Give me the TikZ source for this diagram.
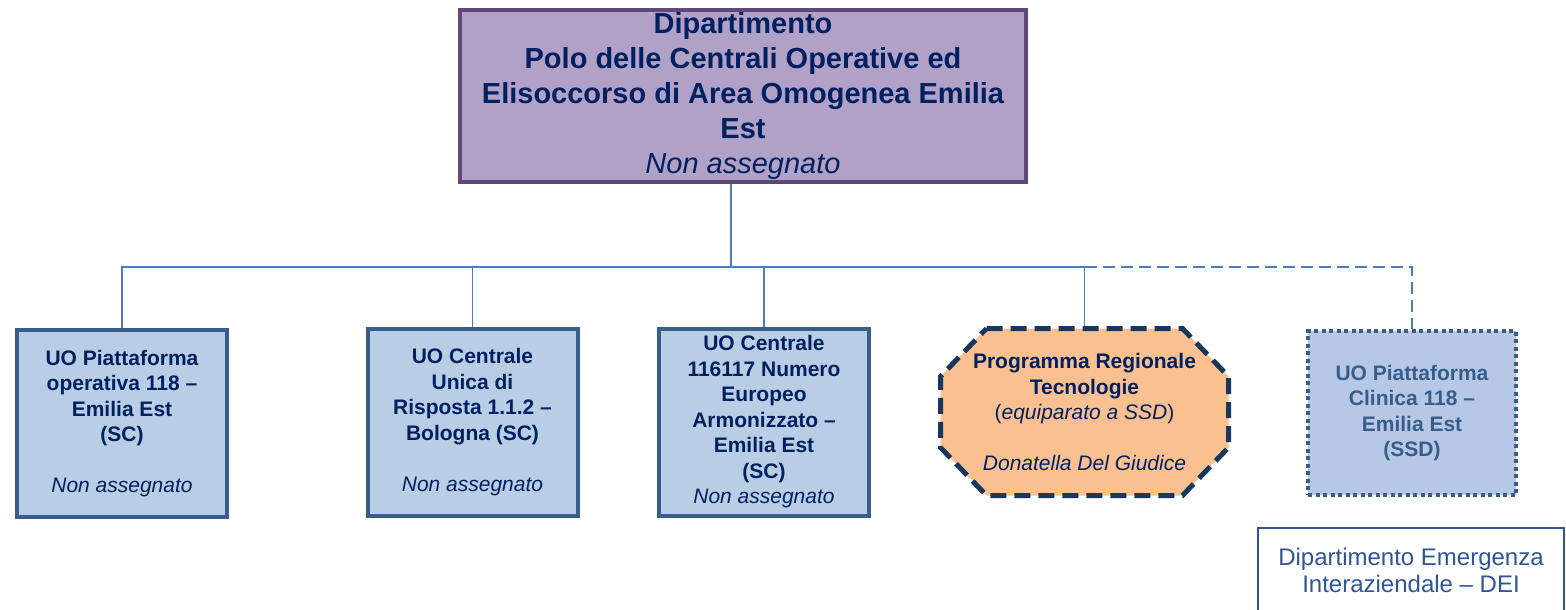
\documentclass[tikz,border=0pt]{standalone}
\usepackage{fontspec}
\setmainfont{Liberation Sans}
\usetikzlibrary{calc,backgrounds}
\definecolor{deptnavy}{RGB}{0,32,96}
\definecolor{deptlilac}{RGB}{178,161,199}
\definecolor{deptplum}{RGB}{96,73,122}
\definecolor{uoblue}{RGB}{185,205,229}
\definecolor{uoedge}{RGB}{56,93,138}
\definecolor{clinblue}{RGB}{182,200,230}
\definecolor{progpeach}{RGB}{250,192,144}
\definecolor{progedge}{RGB}{23,55,94}
\definecolor{linkblue}{RGB}{74,126,187}
\definecolor{deiblue}{RGB}{47,85,151}

\begin{document}
\begin{tikzpicture}[x=1pt,y=-1pt,
    link/.style={linkblue,line width=1.3pt},
    uobox/.style={draw=uoedge,fill=uoblue,line width=4pt,minimum width=210pt,minimum height=187pt,
      inner sep=0pt,align=center,text=deptnavy,font=\fontsize{21}{25.5}\selectfont\bfseries}]
    \useasboundingbox (0,0) rectangle (1566,610);
    \node[draw=deptplum,fill=deptlilac,line width=4pt,minimum width=566pt,minimum height=172pt,inner sep=0pt,
      align=center,text=deptnavy,font=\fontsize{29}{35}\selectfont\bfseries] (dept) at (743,96)
      {Dipartimento\\Polo delle Centrali Operative ed\\Elisoccorso di Area Omogenea Emilia\\Est\\{\mdseries\itshape Non assegnato}};
    \node[uobox] (uo1) at (122,423.5) {UO Piattaforma\\operativa 118 --\\Emilia Est\\(SC)\\[25.5pt]{\mdseries\itshape Non assegnato}};
    \node[uobox] (uo2) at (472.5,422) {UO Centrale\\Unica di\\Risposta 1.1.2 --\\Bologna (SC)\\[25.5pt]{\mdseries\itshape Non assegnato}};
    \node[uobox] (uo3) at (764,422) {UO Centrale\\116117 Numero\\Europeo\\Armonizzato --\\Emilia Est\\(SC)\\{\mdseries\itshape Non assegnato}};
    \node[minimum width=288pt,minimum height=167pt,outer sep=0pt,inner sep=0pt,
      align=center,text=deptnavy,font=\fontsize{21}{25.5}\selectfont\bfseries] (prog) at (1084.5,412)
      {Programma Regionale\\Tecnologie\\{\mdseries(\textit{equiparato a SSD})}\\[25.5pt]{\mdseries\itshape Donatella Del Giudice}};
    \begin{scope}[on background layer]
      \filldraw[draw=progedge,fill=progpeach,line width=5pt,dash pattern=on 16pt off 8pt]
        ($(prog.north west)+(46,0)$) -- ($(prog.north east)+(-46,0)$) -- ($(prog.north east)+(0,48)$)
        -- ($(prog.south east)+(0,-48)$) -- ($(prog.south east)+(-46,0)$) -- ($(prog.south west)+(46,0)$)
        -- ($(prog.south west)+(0,-48)$) -- ($(prog.north west)+(0,48)$) -- cycle;
    \end{scope}
    \node[draw=uoedge,fill=clinblue,line width=4pt,dash pattern=on 4pt off 3.5pt,minimum width=208pt,minimum height=164pt,
      inner sep=0pt,align=center,text=uoedge,font=\fontsize{21}{25.5}\selectfont\bfseries] (clin) at (1412,413)
      {UO Piattaforma\\Clinica 118 --\\Emilia Est\\(SSD)};
    \node[draw=deiblue,fill=white,line width=1.8pt,minimum width=306pt,minimum height=84pt,
      align=center,text=deiblue,font=\fontsize{24}{27}\selectfont] (dei) at (1411,570)
      {Dipartimento Emergenza\\Interaziendale -- DEI};
    \coordinate (bus) at (731,267);
    \draw[link] (dept.south -| bus) -- (bus);
    \draw[link] (uo1.north) -- (uo1.north |- bus) -- (prog.north |- bus) -- ($(prog.north)+(0,-2.5)$);
    \foreach \n in {uo2,uo3}{\draw[link] (\n.north) -- (\n.north |- bus);}
    \draw[link,dash pattern=on 12pt off 6pt] (prog.north |- bus) -- (clin.north |- bus) -- (clin.north);
  \end{tikzpicture}
\end{document}
